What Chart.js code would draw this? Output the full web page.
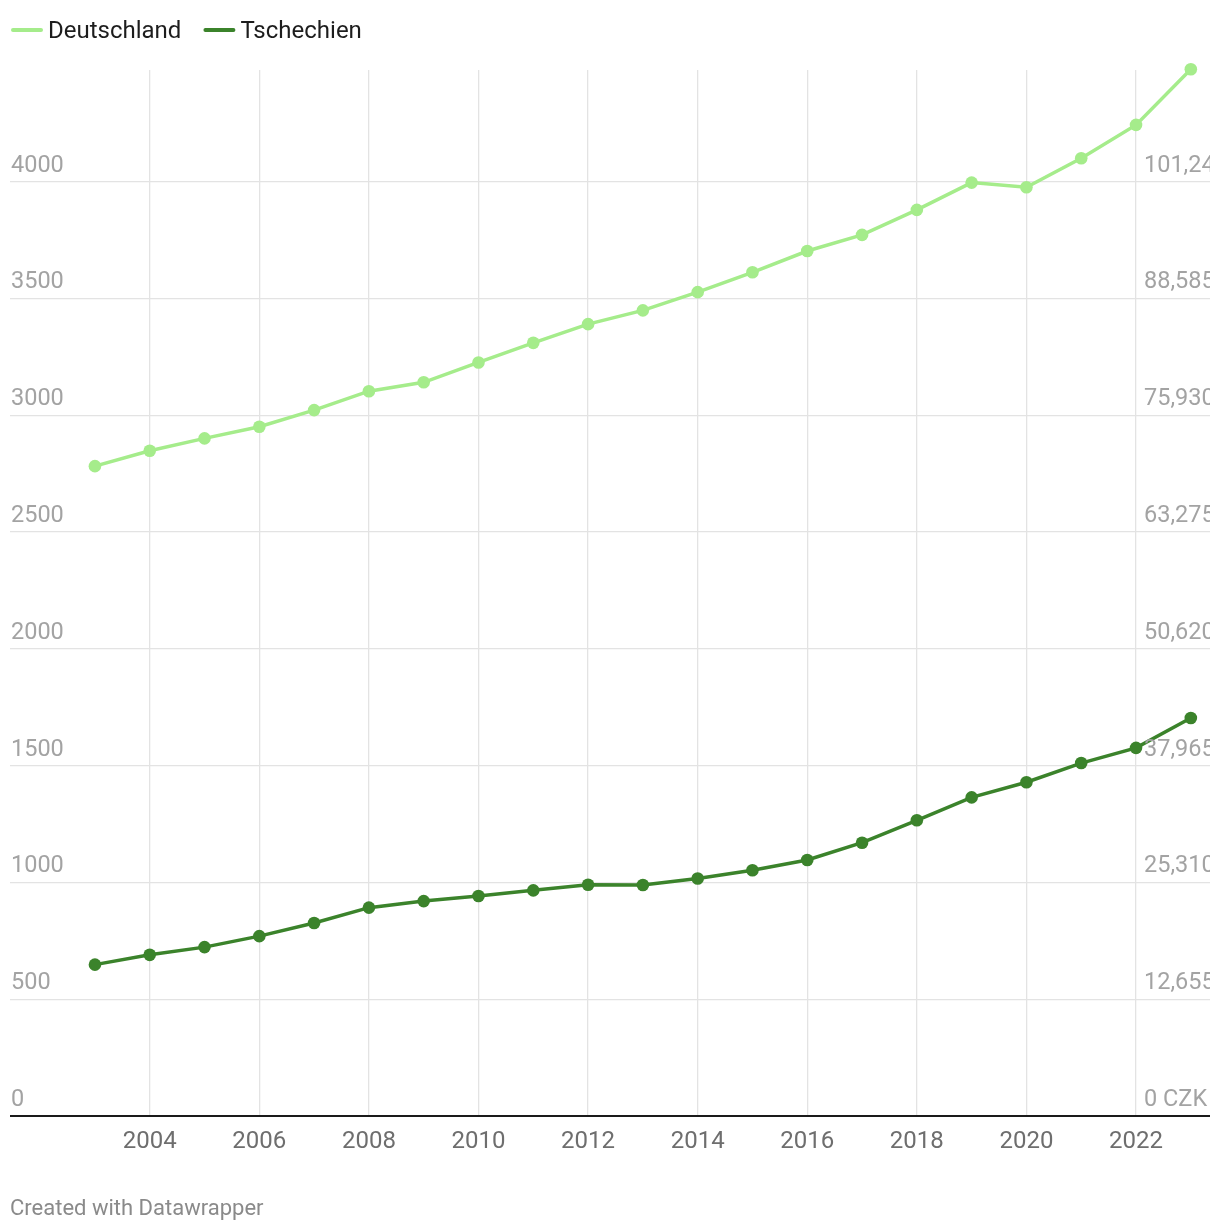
<!DOCTYPE html>
<html>
<head>
<meta charset="utf-8">
<script src="https://cdn.jsdelivr.net/npm/chart.js@4"></script>
<style>
  html, body { margin: 0; padding: 0; background: #fff; }
  #wrap { width: 1220px; height: 1232px; }
</style>
</head>
<body>
<div id="wrap"><canvas id="chart" width="1220" height="1232"></canvas></div>
<script>
// Daten
const years = [2003, 2004, 2005, 2006, 2007, 2008, 2009, 2010, 2011, 2012, 2013,
  2014, 2015, 2016, 2017, 2018, 2019, 2020, 2021, 2022, 2023];
const deutschland = [2782, 2848, 2901, 2951, 3022, 3103, 3141, 3226, 3310, 3390, 3449,
  3527, 3612, 3703, 3772, 3879, 3996, 3976, 4100, 4243, 4481];
const tschechien = [648, 690, 723, 770, 826, 892, 920, 942, 966, 990, 989,
  1017, 1052, 1096, 1170, 1266, 1364, 1429, 1511, 1576, 1704];

const xTicks = [2004, 2006, 2008, 2010, 2012, 2014, 2016, 2018, 2020, 2022];
const yTicks = [0, 500, 1000, 1500, 2000, 2500, 3000, 3500, 4000];
const yTickLabels = ['0', '500', '1000', '1500', '2000', '2500', '3000', '3500', '4000'];
const czkTickLabels = ['0 CZK', '12,655', '25,310', '37,965', '50,620', '63,275', '75,930', '88,585', '101,240'];

const seriesNames = ['Deutschland', 'Tschechien'];
const seriesColors = ['#a5ec8b', '#3b832b'];

const FONT = 'Roboto, "Noto Sans", sans-serif';

function toPoints(vals) {
  return years.map((y, i) => ({ x: y, y: vals[i] }));
}

// Achsenbeschriftungen, Legende, Fußzeile
const dwPlugin = {
  id: 'dw',
  afterDraw(chart) {
    const ctx = chart.ctx;
    const xs = chart.scales.x;
    const ys = chart.scales.y;
    const area = chart.chartArea;
    ctx.save();

    // y labels links + rechts
    ctx.font = '23.5px ' + FONT;
    ctx.fillStyle = '#a3a3a3';
    ctx.textBaseline = 'alphabetic';
    ctx.save();
    ctx.beginPath();
    ctx.rect(0, 0, area.right, chart.height);
    ctx.clip();
    yTicks.forEach((v, i) => {
      const py = ys.getPixelForValue(v);
      ctx.textAlign = 'left';
      ctx.fillText(yTickLabels[i], 11, py - 10);
      ctx.fillText(czkTickLabels[i], 1144, py - 10);
    });
    ctx.restore();

    // x labels
    ctx.font = '24px ' + FONT;
    ctx.fillStyle = '#6e6e6e';
    ctx.textAlign = 'center';
    ctx.textBaseline = 'middle';
    xTicks.forEach(v => {
      ctx.fillText(String(v), xs.getPixelForValue(v), 1142);
    });

    // Legende
    let lx = 12;
    seriesNames.forEach((name, i) => {
      ctx.strokeStyle = seriesColors[i];
      ctx.lineWidth = 4;
      ctx.lineCap = 'round';
      ctx.beginPath();
      ctx.moveTo(lx + 1, 30);
      ctx.lineTo(lx + 29, 30);
      ctx.stroke();
      ctx.fillStyle = '#1d1d1d';
      ctx.textAlign = 'left';
      ctx.textBaseline = 'middle';
      ctx.fillText(name, lx + 36, 31.5);
      lx += 36 + ctx.measureText(name).width + 23;
    });

    // Fußzeile
    ctx.font = '22px ' + FONT;
    ctx.fillStyle = '#8a8a8a';
    ctx.textAlign = 'left';
    ctx.fillText('Created with Datawrapper', 10, 1209);

    ctx.restore();
  }
};

new Chart(document.getElementById('chart'), {
  type: 'line',
  data: {
    datasets: [deutschland, tschechien].map((vals, i) => ({
      label: seriesNames[i],
      data: toPoints(vals),
      borderColor: seriesColors[i],
      backgroundColor: seriesColors[i],
      borderWidth: 3.5,
      pointRadius: 6.3,
      pointHoverRadius: 6.3,
      pointBorderWidth: 0,
      tension: 0,
      clip: false
    }))
  },
  options: {
    responsive: false,
    animation: false,
    events: [],
    layout: { padding: { left: 10, right: 10, top: 70, bottom: 116 } },
    plugins: { legend: { display: false }, tooltip: { enabled: false } },
    scales: {
      x: {
        type: 'linear',
        min: 2001.45,
        max: 2023.35,
        afterBuildTicks: s => { s.ticks = xTicks.map(v => ({ value: v })); },
        ticks: { display: false },
        grid: { color: '#e3e3e3', lineWidth: 1.3, drawTicks: false },
        border: { display: false }
      },
      y: {
        min: 0,
        max: 4478,
        afterBuildTicks: s => { s.ticks = yTicks.map(v => ({ value: v })); },
        ticks: { display: false },
        grid: {
          drawTicks: false,
          color: c => c.tick && c.tick.value === 0 ? '#1a1a1a' : '#e3e3e3',
          lineWidth: c => c.tick && c.tick.value === 0 ? 2 : 1.3
        },
        border: { display: false }
      }
    }
  },
  plugins: [dwPlugin]
});
</script>
</body>
</html>
